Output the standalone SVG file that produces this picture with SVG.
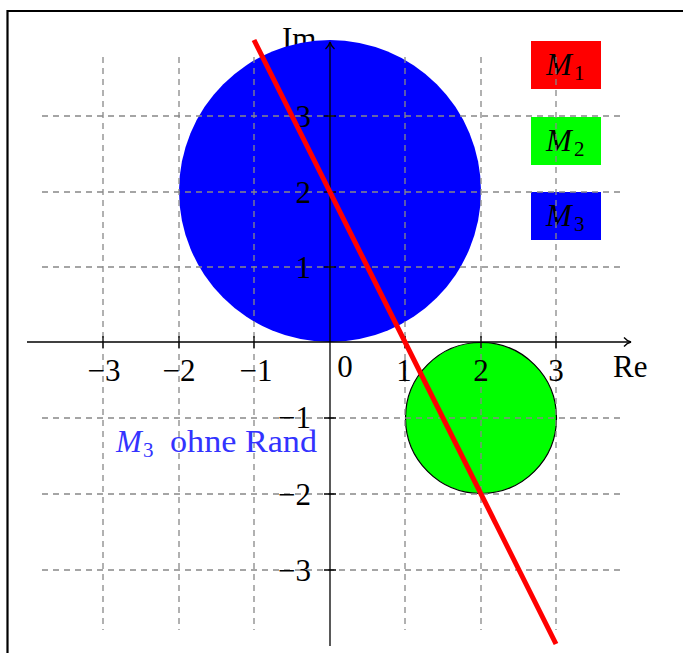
<svg xmlns="http://www.w3.org/2000/svg" width="683" height="653" viewBox="0 0 683 653">
  <defs>
    <style>
      .grid { stroke: #888; stroke-width: 1.3; stroke-dasharray: 6 5; fill: none; }
      .axis { stroke: #000; stroke-width: 1.3; fill: none; }
      .tick { stroke: #000; stroke-width: 1.3; }
      .lbl { font-family: "Liberation Serif", "DejaVu Serif", serif; font-size: 31px; fill: #000; }
      .it { font-style: italic; }
      .sub { font-size: 21px; }
      .blue { fill: #3333ff; }
    </style>
    <marker id="arr" viewBox="0 0 12 12" refX="10" refY="6" markerWidth="12" markerHeight="12" markerUnits="userSpaceOnUse" orient="auto">
      <path d="M3,1.5 Q6,5 10,6 Q6,7 3,10.5" fill="none" stroke="#000" stroke-width="1.3"/>
    </marker>
  </defs>
  <rect width="683" height="653" fill="#fff"/>
  <path d="M7.5,660 V11 H690" fill="none" stroke="#000" stroke-width="2.2"/>

  <text class="lbl" x="282" y="49">Im</text>

  <g id="M3">
    <circle cx="330" cy="191" r="151" fill="#0000ff"/>
  </g>
  <g id="M2">
    <circle cx="481" cy="418" r="75.5" fill="#00ff00" stroke="#000" stroke-width="1.2"/>
  </g>

  <g id="legend">
    <g id="legend-M1">
      <rect x="531" y="41" width="70" height="48" fill="#ff0000"/>
      <text class="lbl it" x="546" y="75">M</text><text class="lbl sub" x="574" y="80">1</text>
    </g>
    <g id="legend-M2">
      <rect x="531" y="117" width="70" height="48" fill="#00ff00"/>
      <text class="lbl it" x="546" y="151">M</text><text class="lbl sub" x="574" y="156">2</text>
    </g>
    <g id="legend-M3">
      <rect x="531" y="192" width="70" height="48" fill="#0000ff"/>
      <text class="lbl it" x="546" y="226">M</text><text class="lbl sub" x="574" y="231">3</text>
    </g>
  </g>

  <g id="grid" class="grid">
    <path d="M103,57 V630 M179,57 V630 M254,57 V630 M405,57 V630 M481,57 V630 M556,57 V630"/>
    <path d="M42,116 H623 M42,192 H623 M42,267 H623 M42,418 H623 M42,494 H623 M42,570 H623"/>
  </g>

  <g id="axes">
    <path class="axis" d="M27,342 H631" marker-end="url(#arr)"/>
    <path class="axis" d="M330,646 V42" marker-end="url(#arr)"/>
    <path class="tick" d="M103,336 V348 M179,336 V348 M254,336 V348 M405,336 V348 M481,336 V348 M556,336 V348"/>
    <path class="tick" d="M324,116 H336 M324,192 H336 M324,267 H336 M324,418 H336 M324,494 H336 M324,570 H336"/>
  </g>

  <g id="labels" class="lbl">
    <text x="104" y="381" text-anchor="middle">−3</text>
    <text x="179" y="381" text-anchor="middle">−2</text>
    <text x="256" y="381" text-anchor="middle">−1</text>
    <text x="345" y="377" text-anchor="middle">0</text>
    <text x="404" y="381" text-anchor="middle">1</text>
    <text x="481" y="381" text-anchor="middle">2</text>
    <text x="556" y="381" text-anchor="middle">3</text>
    <text x="613" y="377">Re</text>
    <text x="311" y="127" text-anchor="end">3</text>
    <text x="311" y="203" text-anchor="end">2</text>
    <text x="311" y="278" text-anchor="end">1</text>
    <text x="311" y="428" text-anchor="end">−1</text>
    <text x="311" y="505" text-anchor="end">−2</text>
    <text x="311" y="581" text-anchor="end">−3</text>
  </g>

  <g id="note">
    <text class="lbl it blue" x="116" y="452">M</text>
    <text class="lbl sub blue" x="143" y="457">3</text>
    <text class="lbl blue" x="170" y="452" textLength="147" lengthAdjust="spacingAndGlyphs">ohne Rand</text>
  </g>

  <g id="M1">
    <line x1="254" y1="40" x2="556" y2="644" stroke="#ff0000" stroke-width="5"/>
  </g>
</svg>
